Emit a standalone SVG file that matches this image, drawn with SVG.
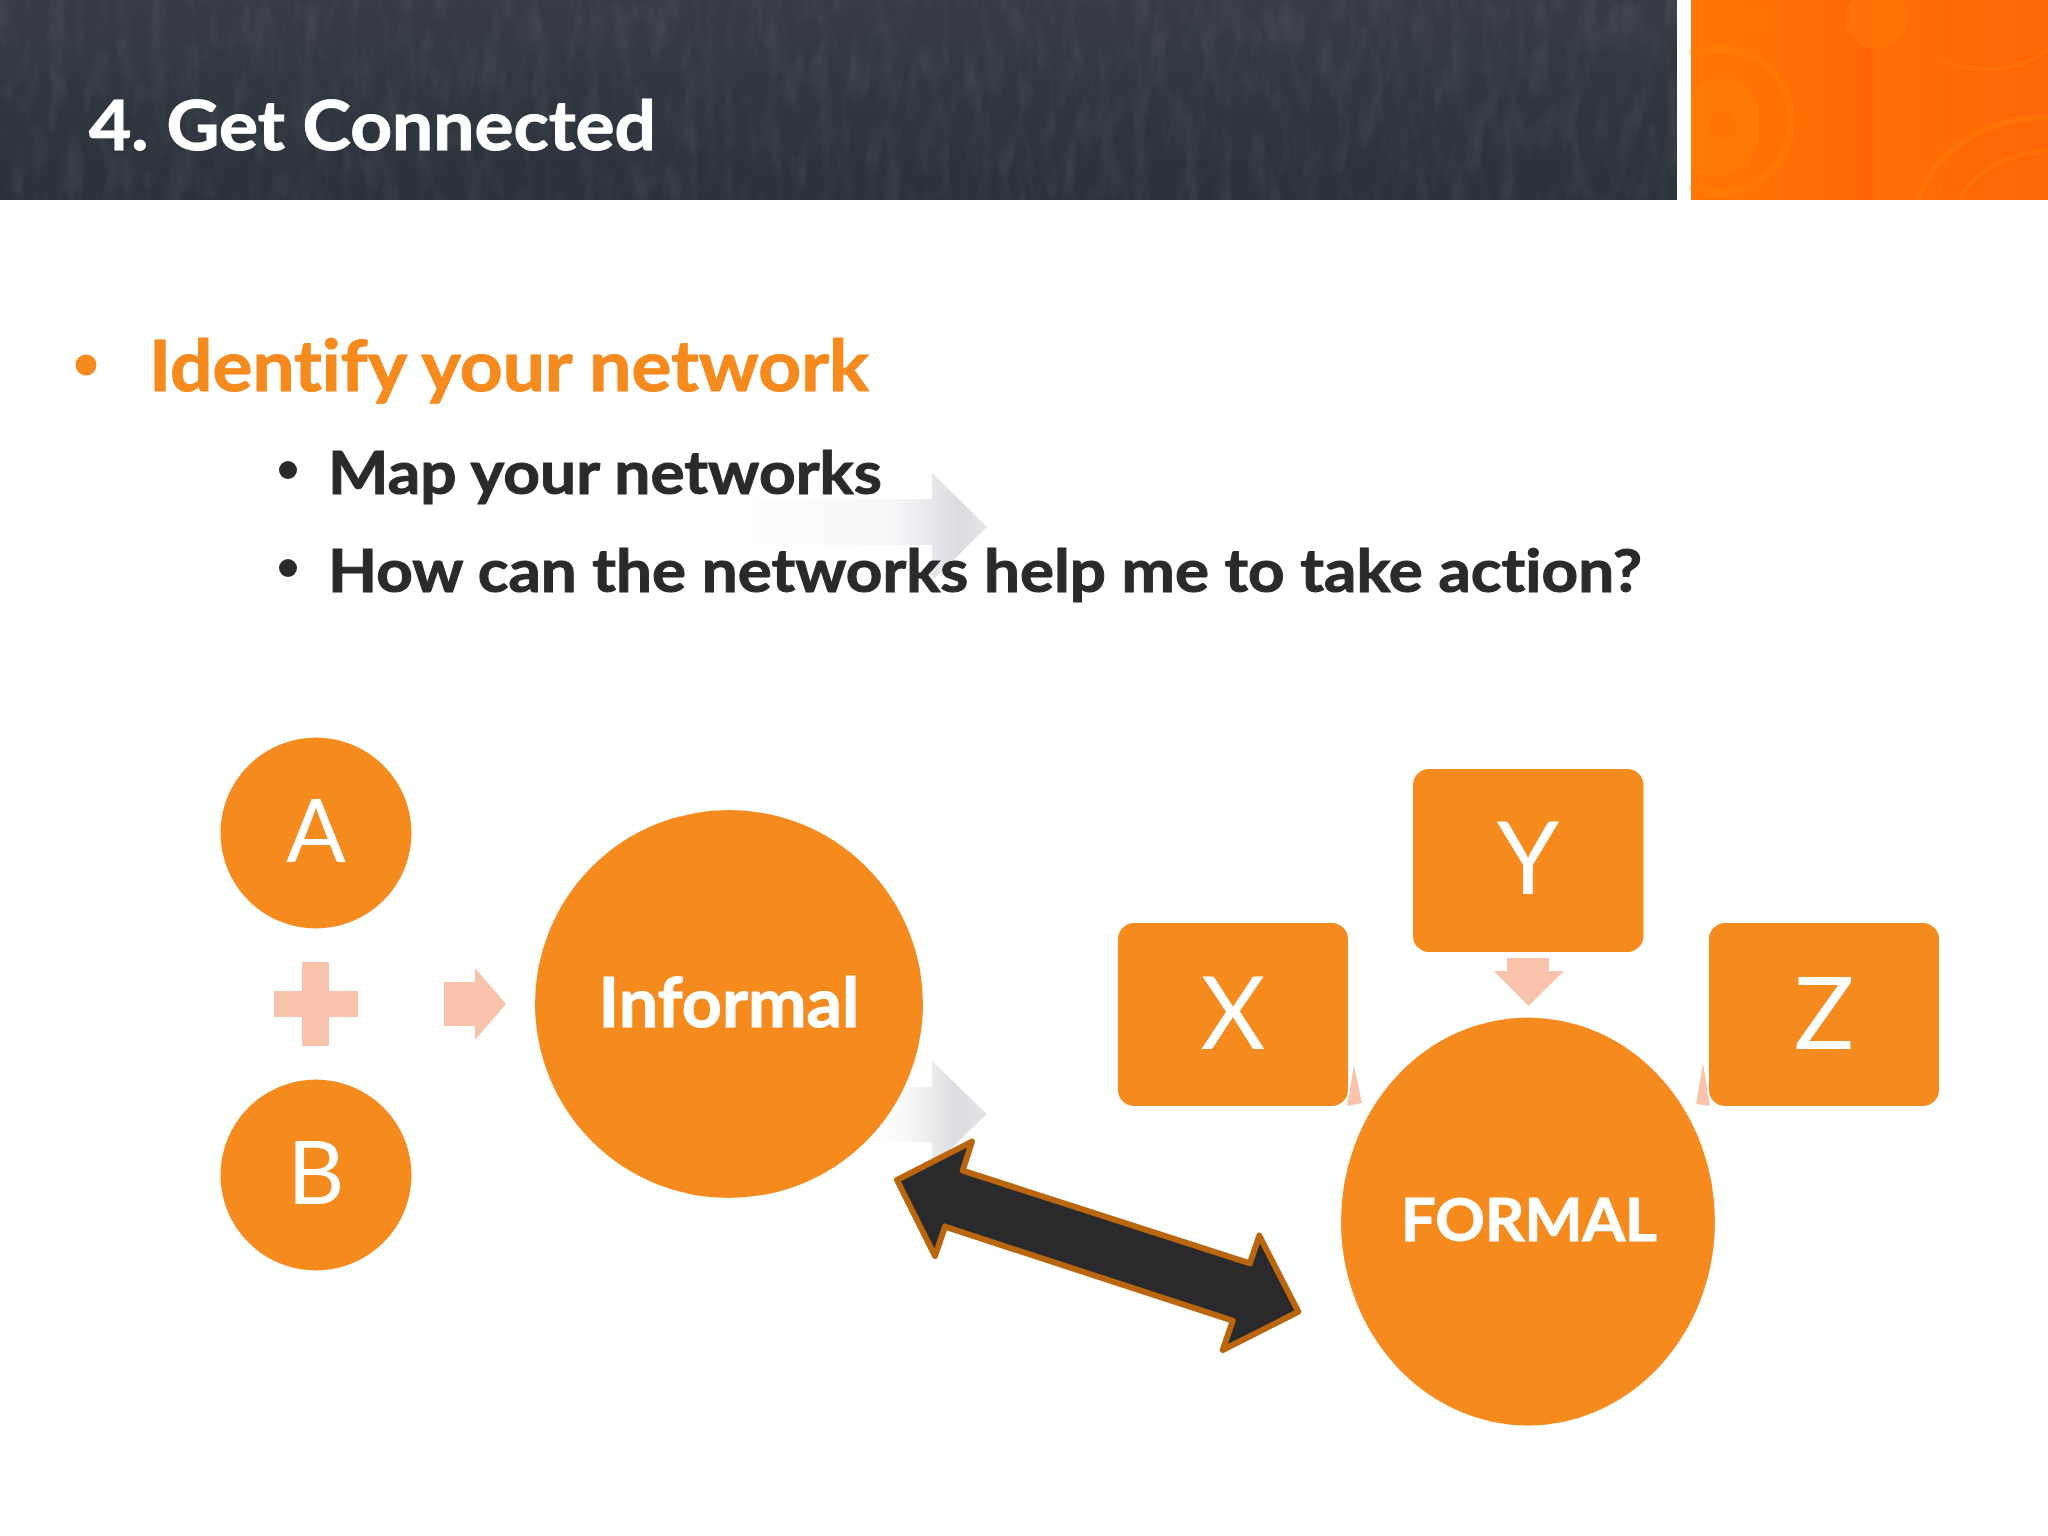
<svg xmlns="http://www.w3.org/2000/svg" width="2048" height="1536" viewBox="0 0 2048 1536">
<style>
text{font-family:"Lato","Carlito","Liberation Sans",sans-serif;font-variant-ligatures:none}
.b{font-weight:700;stroke-width:1}
.n{fill:#f58a1f;stroke:#fff;stroke-width:2}
.w{fill:#fff;text-anchor:middle}
.d{fill:#2a2a2d}
.p{fill:#f9c2aa}
.h{fill:none;stroke:#ff8205;stroke-opacity:.4}
</style>
<defs>
<linearGradient id="dark" x1="0" y1="0" x2="0" y2="1"><stop offset="0" stop-color="#363b47"/><stop offset=".5" stop-color="#30363f"/><stop offset="1" stop-color="#2a323c"/></linearGradient>
<linearGradient id="or" x1="0" y1="0" x2="1" y2="0"><stop offset="0" stop-color="#ff7605"/><stop offset=".45" stop-color="#ff6a05"/><stop offset=".5" stop-color="#ff6205"/><stop offset=".52" stop-color="#ff6e05"/><stop offset="1" stop-color="#ff6605"/></linearGradient>
<linearGradient id="gr" x1="0" y1="0" x2="1" y2="0"><stop offset="0" stop-color="#fff" stop-opacity="0"/><stop offset=".05" stop-color="#fcfbfd"/><stop offset=".6" stop-color="#f8f7fa"/><stop offset=".88" stop-color="#dcdce0"/><stop offset="1" stop-color="#e4e4e8"/></linearGradient>
<linearGradient id="gr2" x1="0" y1="0" x2="1" y2="0"><stop offset="0" stop-color="#fff" stop-opacity="0"/><stop offset=".75" stop-color="#dcdce0"/><stop offset="1" stop-color="#e4e4e8"/></linearGradient>
<filter id="tex" x="0" y="0" width="100%" height="100%"><feTurbulence type="fractalNoise" baseFrequency=".06 .02" numOctaves="3" seed="4"/><feColorMatrix values="0 0 0 0 .55  0 0 0 0 .57  0 0 0 0 .65  .9 0 0 0 -.38"/></filter>
</defs>
<rect width="2048" height="1536" fill="#fff"/>
<g id="header">
<rect width="1677" height="200" fill="url(#dark)"/>
<rect width="1677" height="200" filter="url(#tex)" opacity=".22"/>
<rect x="1691" width="357" height="200" fill="url(#or)"/>
<path class="h" stroke-width="8" d="M1691 55A70 70 0 0 1 1791 122A70 70 0 0 1 1691 186"/>
<path fill="#ff7f05" fill-opacity=".55" d="M1691 95A36 36 0 0 1 1757 122A44 44 0 0 1 1691 170Z"/>
<circle cx="1723" cy="125" r="14" fill="#ff6e05" fill-opacity=".4"/>
<ellipse cx="1877" cy="18" rx="31" ry="31" fill="#ff7a0a" fill-opacity=".55"/>
<circle cx="1757" cy="18" r="13" fill="#ff7a0a" fill-opacity=".35"/>
<path class="h" stroke-width="6" d="M1918 199C1935 150 1985 118 2048 117"/>
<path class="h" stroke-width="4" stroke-opacity=".25" d="M1960 199C1975 170 2005 155 2048 150"/>
<path class="h" stroke-width="3" stroke-opacity=".25" d="M1945 62C1985 75 2020 70 2048 50"/>
<text class="b" x="89" y="150" font-size="68" fill="#fff" stroke="#fff" textLength="567" lengthAdjust="spacingAndGlyphs">4. Get Connected</text>
</g>
<g id="faded-arrows">
<path fill="url(#gr)" d="M750 499H932V473L987 527L932 581V545H750Z"/>
<path fill="url(#gr2)" d="M860 1087H932V1061L987 1114L932 1167V1142H860Z"/>
</g>
<g id="bullets">
<circle cx="86" cy="365" r="10.500" fill="#f58a1f"/>
<text class="b" x="149" y="391" font-size="70" fill="#f58a1f" stroke="#f58a1f" textLength="720" lengthAdjust="spacingAndGlyphs">Identify your network</text>
<circle cx="288" cy="470" r="9" class="d"/>
<text class="b d" x="328" y="494" font-size="60" stroke="#2a2a2d" textLength="554" lengthAdjust="spacingAndGlyphs">Map your networks</text>
<circle cx="288" cy="568" r="9" class="d"/>
<text class="b d" x="328" y="592" font-size="60" stroke="#2a2a2d" textLength="1314" lengthAdjust="spacingAndGlyphs">How can the networks help me to take action?</text>
</g>
<g id="connectors">
<path id="plus" class="p" d="M302 962H329V991H358V1017H329V1046H302V1017H274V991H302Z"/>
<path id="arrow-to-informal" class="p" d="M444 982H475V968L506 1004L475 1040V1026H444Z"/>
<path id="arrow-y" class="p" d="M1507 958H1549V971H1564L1528.500 1006L1494 971H1507Z"/>
<path id="arrow-x" class="p" d="M1354 1065L1362 1103L1347 1106Z"/>
<path id="arrow-z" class="p" d="M1703 1063L1710 1106L1696 1104Z"/>
</g>
<g id="node-a"><circle class="n" cx="316" cy="833" r="96.500"/><text class="w" x="316" y="862" font-size="88">A</text></g>
<g id="node-b"><circle class="n" cx="316" cy="1175" r="96.500"/><text class="w" x="316" y="1204" font-size="88">B</text></g>
<g id="node-informal"><circle class="n" cx="729" cy="1004" r="195"/><text class="w b" x="729" y="1027" font-size="68" stroke="#fff" textLength="261" lengthAdjust="spacingAndGlyphs">Informal</text></g>
<g id="node-x"><rect class="n" x="1117" y="922" width="232" height="185" rx="17"/><text class="w" x="1233" y="1049" font-size="100">X</text></g>
<g id="node-y"><rect class="n" x="1412" y="768" width="232.500" height="185" rx="17"/><text class="w" x="1528" y="894" font-size="100">Y</text></g>
<g id="node-z"><rect class="n" x="1708" y="922" width="232" height="185" rx="17"/><text class="w" x="1824" y="1049" font-size="100">Z</text></g>
<g id="node-formal"><ellipse class="n" cx="1528" cy="1221.500" rx="188" ry="205"/><text class="w b" x="1529" y="1241" font-size="60" stroke="#fff" textLength="256" lengthAdjust="spacingAndGlyphs">FORMAL</text></g>
<g id="double-arrow"><path fill="#2a2a2c" stroke="#b9660f" stroke-width="6" stroke-linejoin="round" d="M897 1180L972 1141.700L962.700 1170.700L1250 1263.300L1259.300 1235.700L1298.300 1311.700L1222.700 1350L1232.700 1320.700L945 1226.700L935 1256Z"/></g>
</svg>
